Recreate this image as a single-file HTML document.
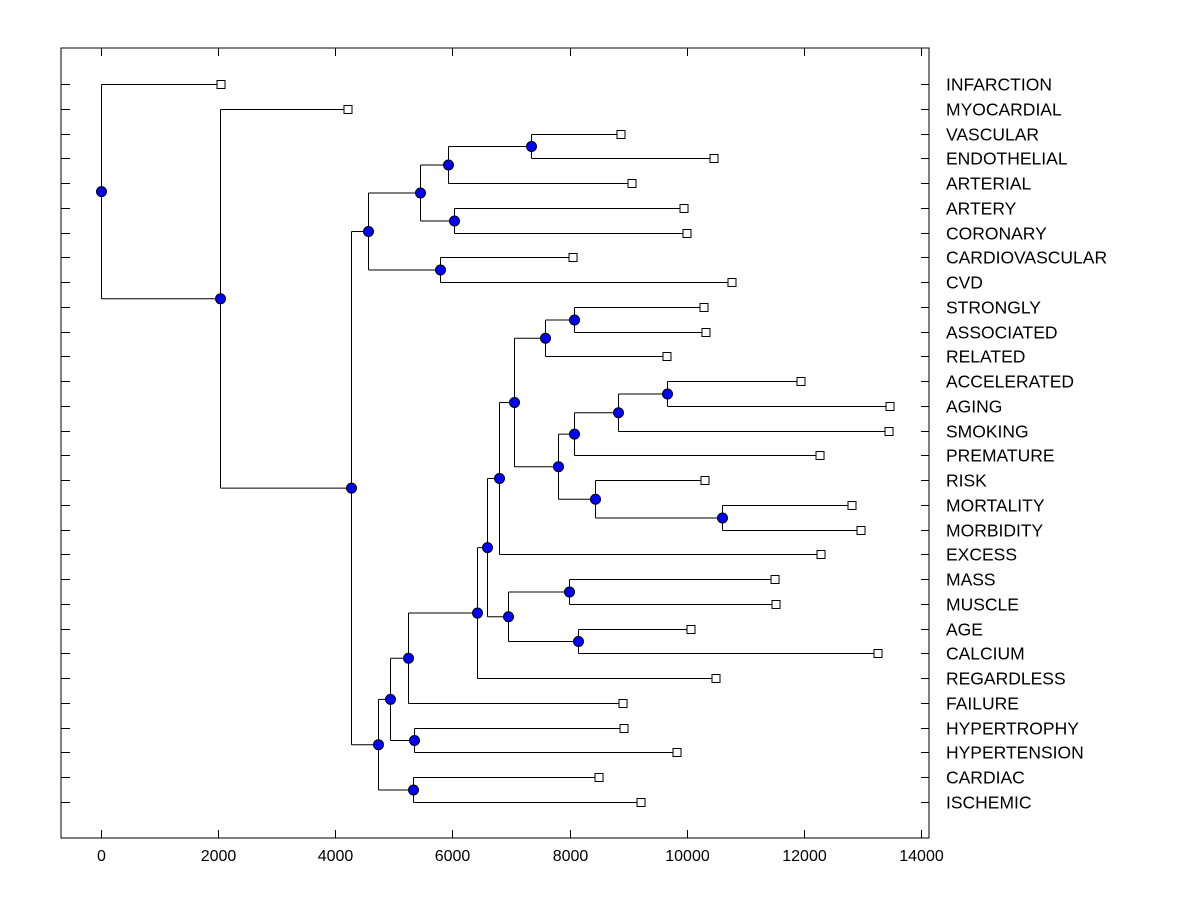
<!DOCTYPE html>
<html><head><meta charset="utf-8"><style>
body{margin:0;background:#fff;}
svg{display:block;font-family:"Liberation Sans",Arial,sans-serif;}
</style></head><body>
<svg id="chart" width="1200" height="900" viewBox="0 0 1200 900"></svg>
<script>
const leafLabels=["INFARCTION","MYOCARDIAL","VASCULAR","ENDOTHELIAL","ARTERIAL","ARTERY","CORONARY","CARDIOVASCULAR","CVD","STRONGLY","ASSOCIATED","RELATED","ACCELERATED","AGING","SMOKING","PREMATURE","RISK","MORTALITY","MORBIDITY","EXCESS","MASS","MUSCLE","AGE","CALCIUM","REGARDLESS","FAILURE","HYPERTROPHY","HYPERTENSION","CARDIAC","ISCHEMIC"];
const leafDist=[2049,4217,8878,10466,9066,9954,10005,8059,10773,10295,10329,9663,11951,13471,13454,12276,10312,12822,12976,12293,11508,11525,10073,13266,10500,8913,8930,9834,8503,9220];
const nodeNames=["root","A","B","C","E","G","I","H","F","D","K","J","M","L","N","O","Q","R","S","P","T","U","W","V","X","Z","AA","Y","AB"];
const nodeDist=[0,2031,4268,4559,5447,5925,7342,6027,5788,4729,5327,4934,5344,5241,6420,6590,6949,7990,8144,6795,7051,7580,8076,7803,8076,8827,9663,8434,10603];
const nodeKids=[["INFARCTION","A"],["MYOCARDIAL","B"],["C","D"],["E","F"],["G","H"],["I","ARTERIAL"],["VASCULAR","ENDOTHELIAL"],["ARTERY","CORONARY"],["CARDIOVASCULAR","CVD"],["J","K"],["CARDIAC","ISCHEMIC"],["L","M"],["HYPERTROPHY","HYPERTENSION"],["N","FAILURE"],["O","REGARDLESS"],["P","Q"],["R","S"],["MASS","MUSCLE"],["AGE","CALCIUM"],["T","EXCESS"],["U","V"],["W","RELATED"],["STRONGLY","ASSOCIATED"],["X","Y"],["Z","PREMATURE"],["AA","SMOKING"],["ACCELERATED","AGING"],["RISK","AB"],["MORTALITY","MORBIDITY"]];
const xTicks=[0,2000,4000,6000,8000,10000,12000,14000];

const svg=document.getElementById('chart');
const NS='http://www.w3.org/2000/svg';
const L=61,R=929,T=48,B=838;
const xs=v=>101+v*(820/14000);
const rowY=i=>84+i*(718/29);
function mk(tag,attrs,name){const e=document.createElementNS(NS,tag);for(const k in attrs)e.setAttribute(k,attrs[k]);


svg.appendChild(e);return e;}
mk('rect',{x:L,y:T,width:R-L,height:B-T,fill:'none',stroke:'#000','stroke-width':1},'plot-frame');
xTicks.forEach(t=>{const x=Math.round(xs(t))+0.5;
mk('line',{x1:x,y1:B,x2:x,y2:B-8,stroke:'#000'},'x-tick');
mk('line',{x1:x,y1:T,x2:x,y2:T+8,stroke:'#000'},'x-tick-top');
const tx=mk('text',{x:x,y:861,'font-size':16,'text-anchor':'middle'},'x-tick-label');tx.textContent=t;});
const pos={};
leafLabels.forEach((lab,i)=>{const y=Math.round(rowY(i))+0.5;pos[lab]={x:xs(leafDist[i]),y:y,leaf:true};
mk('line',{x1:L,y1:y,x2:L+9,y2:y,stroke:'#000'},'y-tick');
mk('line',{x1:R,y1:y,x2:R-8,y2:y,stroke:'#000'},'y-tick-right');
const tx=mk('text',{x:946,y:y+6,'font-size':17.5},'leaf-label');tx.textContent=lab;});
function resolve(n){if(pos[n])return pos[n];const i=nodeNames.indexOf(n);const a=resolve(nodeKids[i][0]),b=resolve(nodeKids[i][1]);
pos[n]={x:xs(nodeDist[i]),y:(a.y+b.y)/2,leaf:false};return pos[n];}
resolve('root');
nodeNames.forEach((n,i)=>{const p=pos[n];const a=pos[nodeKids[i][0]],b=pos[nodeKids[i][1]];const x=Math.round(p.x)+0.5;
mk('line',{x1:x,y1:a.y,x2:x,y2:b.y,stroke:'#000'},'branch-vertical');
[a,b].forEach(c=>mk('line',{x1:x,y1:c.y,x2:c.x,y2:c.y,stroke:'#000'},'branch-horizontal'));});
leafLabels.forEach(l=>{const p=pos[l];mk('rect',{x:p.x-4,y:p.y-4,width:8,height:8,fill:'#fff',stroke:'#000'},'leaf-marker');});
nodeNames.forEach(n=>{const p=pos[n];mk('circle',{cx:Math.round(p.x)+0.5,cy:p.y,r:5,fill:'#0000ff',stroke:'#000'},'node-marker');});
</script>
</body></html>
